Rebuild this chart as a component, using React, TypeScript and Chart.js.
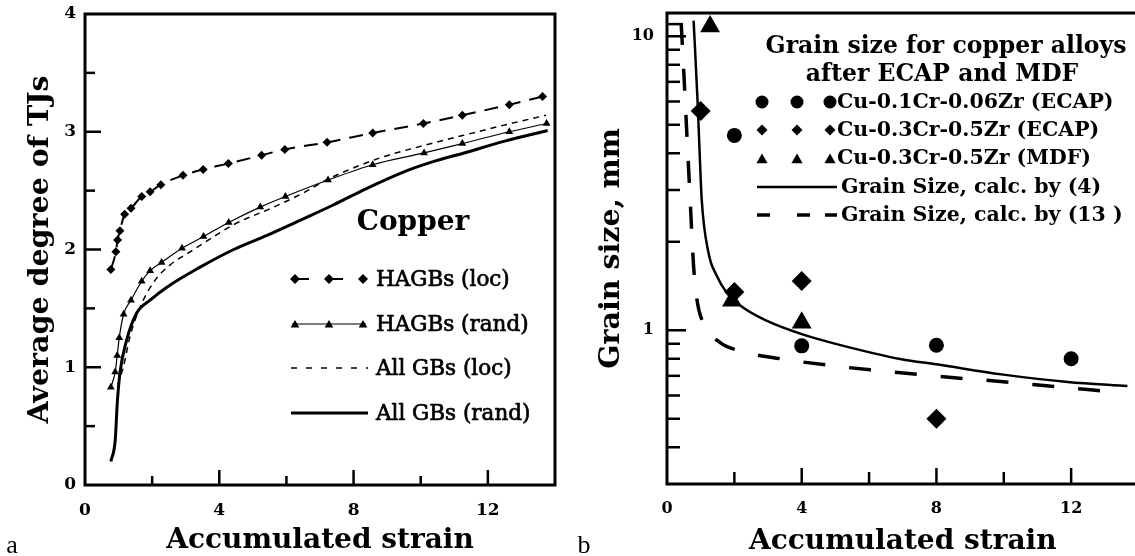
import React, { useEffect, useRef } from 'react';
import { Chart, registerables } from 'chart.js';

Chart.register(...registerables);

// ---------- Panel a data (Copper) ----------
const aStrainHagbsLoc = [0.77, 0.92, 0.97, 1.04, 1.18, 1.37, 1.69, 1.94, 2.26, 2.92, 3.52, 4.27, 5.26, 5.95, 7.21, 8.57, 10.08, 11.24, 12.64, 13.63];
const aHagbsLoc = [1.83, 1.98, 2.08, 2.16, 2.30, 2.35, 2.45, 2.49, 2.55, 2.63, 2.68, 2.73, 2.80, 2.85, 2.91, 2.99, 3.07, 3.14, 3.23, 3.30];

const aStrainHagbsRand = [0.77, 0.90, 0.96, 1.02, 1.15, 1.37, 1.69, 1.94, 2.28, 2.89, 3.53, 4.28, 5.22, 5.97, 7.24, 8.57, 10.1, 11.24, 12.64, 13.75];
const aHagbsRand = [0.83, 0.96, 1.10, 1.25, 1.45, 1.57, 1.73, 1.82, 1.89, 2.01, 2.11, 2.23, 2.36, 2.45, 2.59, 2.72, 2.82, 2.90, 3.00, 3.07];

const aStrainAllLoc = [0.98, 1.14, 1.34, 1.64, 2.09, 2.54, 3.13, 3.73, 4.42, 5.62, 6.5, 7.26, 8.81, 10.05, 11.28, 12.54, 13.73];
const aAllLoc = [0.85, 1.00, 1.26, 1.51, 1.74, 1.87, 1.98, 2.09, 2.21, 2.36, 2.48, 2.60, 2.78, 2.88, 2.97, 3.06, 3.14];

const aStrainAllRand = [0.77, 0.90, 0.96, 1.04, 1.24, 1.54, 1.94, 2.44, 3.43, 4.43, 5.42, 6.42, 7.41, 8.4, 9.5, 10.3, 11.29, 12.5, 13.78];
const aAllRand = [0.20, 0.38, 0.69, 0.95, 1.23, 1.46, 1.57, 1.68, 1.85, 2.00, 2.12, 2.25, 2.38, 2.52, 2.66, 2.74, 2.82, 2.92, 3.01];

const aLegendLabels = ['HAGBs (loc)', 'HAGBs (rand)', 'All GBs (loc)', 'All GBs (rand)'];
const aLegendTitle = 'Copper';
const aXTitle = 'Accumulated strain';
const aYTitle = 'Average degree of TJs';

// ---------- Panel b data (Grain size) ----------
const bStrainCrZr01 = [2, 4, 8, 12];
const bSizeCrZr01 = [4.6, 0.885, 0.889, 0.80];
const bStrainEcap03 = [1, 2, 4, 8];
const bSizeEcap03 = [5.57, 1.35, 1.47, 0.50];
const bStrainMdf03 = [1.28, 1.93, 4.0];
const bSizeMdf03 = [10.8, 1.26, 1.06];

const bStrainCalc4 = [0.79, 0.905, 0.965, 1.03, 1.23, 1.48, 1.78, 2.28, 2.97, 4.0, 4.98, 6.96, 8.0, 9.93, 11.9, 13.67];
const bCalc4 = [11.3, 6.1, 4.13, 2.79, 1.84, 1.53, 1.34, 1.19, 1.076, 0.97, 0.901, 0.797, 0.766, 0.708, 0.667, 0.646];
const bStrainCalc13 = [0.42, 0.5, 0.58, 0.68, 0.79, 0.89, 1.09, 1.58, 2.18, 3.37, 4.98, 6.07, 7.45, 8.84, 10.27, 11.66, 13.03, 13.4];
const bCalc13 = [11.1, 7.5, 4.9, 2.9, 1.65, 1.27, 1.05, 0.908, 0.85, 0.80, 0.756, 0.733, 0.708, 0.685, 0.664, 0.641, 0.621, 0.618];

const bYTickValues = [0.3, 0.4, 0.5, 0.6, 0.7, 0.8, 0.9, 1, 2, 3, 4, 5, 6, 7, 8, 9, 10, 11];
const bYLabelled = [1, 10];
const bLegendTitle = ['Grain size for copper alloys', 'after ECAP and MDF'];
const bLegendLabels = ['Cu-0.1Cr-0.06Zr (ECAP)', 'Cu-0.3Cr-0.5Zr (ECAP)', 'Cu-0.3Cr-0.5Zr (MDF)', 'Grain Size, calc. by (4)', 'Grain Size, calc. by (13 )'];
const bXTitle = 'Accumulated strain';
const bYTitle = 'Grain size, mm';

const SERIF = '"DejaVu Serif", "Liberation Serif", serif';

const zip = (xs: number[], ys: number[]) => xs.map((x, i) => ({ x, y: ys[i] }));

function drawMarker(ctx: CanvasRenderingContext2D, style: string, x: number, y: number, r: number) {
  ctx.beginPath();
  if (style === 'circle') {
    ctx.arc(x, y, r, 0, Math.PI * 2);
  } else if (style === 'rectRot') {
    ctx.moveTo(x, y - r);
    ctx.lineTo(x + r, y);
    ctx.lineTo(x, y + r);
    ctx.lineTo(x - r, y);
    ctx.closePath();
  } else {
    ctx.moveTo(x, y - r);
    ctx.lineTo(x + r * 0.866, y + r / 2);
    ctx.lineTo(x - r * 0.866, y + r / 2);
    ctx.closePath();
  }
  ctx.fillStyle = '#000';
  ctx.fill();
}

function seg(ctx: CanvasRenderingContext2D, x1: number, y1: number, x2: number, y2: number) {
  ctx.beginPath();
  ctx.moveTo(x1, y1);
  ctx.lineTo(x2, y2);
  ctx.stroke();
}

const fixX = (h: number) => (s: any) => {
  s.height = h;
  s.paddingLeft = 0;
  s.paddingRight = 0;
  s.paddingTop = 0;
  s.paddingBottom = 0;
};
const fixY = (w: number) => (s: any) => {
  s.width = w;
  s.paddingLeft = 0;
  s.paddingRight = 0;
  s.paddingTop = 0;
  s.paddingBottom = 0;
};

function frameTicksPlugin(cfg: {
  xMajor: (v: number) => boolean;
  yMajor: (v: number) => boolean;
  xLen: [number, number];
  yLen: [number, number];
  panelLetter: string;
  letterX: number;
  letterY: number;
}) {
  return {
    id: 'frameTicks',
    afterDatasetsDraw(chart: any) {
      const { ctx, chartArea: ca, scales } = chart;
      ctx.save();
      ctx.strokeStyle = '#000';
      ctx.lineWidth = 2.5;
      ctx.setLineDash([]);
      const xs = scales.x;
      xs.ticks.forEach((t: any) => {
        const px = xs.getPixelForValue(t.value);
        if (px <= ca.left + 2 || px >= ca.right - 2) return;
        const len = cfg.xMajor(t.value) ? cfg.xLen[0] : cfg.xLen[1];
        seg(ctx, px, ca.bottom, px, ca.bottom - len);
      });
      const ys = scales.y;
      ys.ticks.forEach((t: any) => {
        const py = ys.getPixelForValue(t.value);
        if (py <= ca.top + 2 || py >= ca.bottom - 2) return;
        const len = cfg.yMajor(t.value) ? cfg.yLen[0] : cfg.yLen[1];
        seg(ctx, ca.left, py, ca.left + len, py);
      });
      ctx.lineWidth = 3;
      ctx.strokeRect(ca.left, ca.top, ca.right - ca.left, ca.bottom - ca.top);
      ctx.fillStyle = '#000';
      ctx.font = '26px "Liberation Serif", serif';
      ctx.textAlign = 'center';
      ctx.textBaseline = 'middle';
      ctx.fillText(cfg.panelLetter, cfg.letterX, cfg.letterY);
      ctx.restore();
    },
  };
}

const legendAPlugin = {
  id: 'legendA',
  afterDraw(chart: any) {
    const ctx: CanvasRenderingContext2D = chart.ctx;
    ctx.save();
    ctx.fillStyle = '#000';
    ctx.strokeStyle = '#000';
    ctx.textBaseline = 'middle';
    ctx.textAlign = 'center';
    ctx.font = `bold 28px ${SERIF}`;
    ctx.fillText(aLegendTitle, 413, 223);
    const rows = [279, 324, 368, 413];
    const mx = [295, 329, 363];
    ctx.lineWidth = 2;
    seg(ctx, 295, rows[0], 309, rows[0]);
    seg(ctx, 329, rows[0], 343, rows[0]);
    mx.forEach((x) => drawMarker(ctx, 'rectRot', x, rows[0], 5));
    ctx.lineWidth = 1.2;
    seg(ctx, 292, rows[1], 366, rows[1]);
    mx.forEach((x) => drawMarker(ctx, 'triangle', x, rows[1] + 1, 5));
    ctx.lineWidth = 1.5;
    ctx.setLineDash([6, 9]);
    seg(ctx, 291, rows[2], 368, rows[2]);
    ctx.setLineDash([]);
    ctx.lineWidth = 3;
    seg(ctx, 291, rows[3], 368, rows[3]);
    ctx.textAlign = 'left';
    ctx.font = `21.5px ${SERIF}`;
    ctx.lineWidth = 0.7;
    aLegendLabels.forEach((t, i) => {
      ctx.fillText(t, 376, rows[i] + 1);
      ctx.strokeText(t, 376, rows[i] + 1);
    });
    ctx.restore();
  },
};

const legendBPlugin = {
  id: 'legendB',
  afterDraw(chart: any) {
    const ctx: CanvasRenderingContext2D = chart.ctx;
    const ox = -560;
    ctx.save();
    ctx.fillStyle = '#000';
    ctx.strokeStyle = '#000';
    ctx.textBaseline = 'middle';
    ctx.textAlign = 'center';
    ctx.font = `bold 23.5px ${SERIF}`;
    ctx.fillText(bLegendTitle[0], 946 + ox, 47);
    ctx.fillText(bLegendTitle[1], 942 + ox, 75);
    const rows = [102, 130, 158, 187, 215];
    const mx = [762, 797, 830];
    mx.forEach((x) => drawMarker(ctx, 'circle', x + ox, rows[0], 6.5));
    mx.forEach((x) => drawMarker(ctx, 'rectRot', x + ox, rows[1], 5.5));
    mx.forEach((x) => drawMarker(ctx, 'triangle', x + ox, rows[2] + 2, 6.5));
    ctx.lineWidth = 2.5;
    seg(ctx, 757 + ox, rows[3], 837 + ox, rows[3]);
    ctx.lineWidth = 3.5;
    seg(ctx, 757 + ox, rows[4], 770 + ox, rows[4]);
    seg(ctx, 797 + ox, rows[4], 810 + ox, rows[4]);
    seg(ctx, 825 + ox, rows[4], 837 + ox, rows[4]);
    ctx.textAlign = 'left';
    ctx.font = `bold 20.5px ${SERIF}`;
    bLegendLabels.forEach((t, i) => {
      ctx.fillText(t, (i < 3 ? 837 : 841) + ox, rows[i] + 1);
    });
    ctx.restore();
  },
};

function makeA(): any {
  const tickFont = { family: SERIF, size: 17, weight: 'bold' as const };
  return {
    type: 'scatter',
    data: {
      datasets: [
        {
          label: aLegendLabels[0],
          data: zip(aStrainHagbsLoc, aHagbsLoc),
          showLine: true,
          borderColor: '#000',
          borderWidth: 2,
          borderDash: [14, 9],
          pointStyle: 'rectRot',
          pointRadius: 4.5,
          pointBackgroundColor: '#000',
          pointBorderColor: '#000',
          pointBorderWidth: 0,
          cubicInterpolationMode: 'monotone',
        },
        {
          label: aLegendLabels[1],
          data: zip(aStrainHagbsRand, aHagbsRand),
          showLine: true,
          borderColor: '#000',
          borderWidth: 1.2,
          pointStyle: 'triangle',
          pointRadius: 4.5,
          pointBackgroundColor: '#000',
          pointBorderColor: '#000',
          pointBorderWidth: 0,
          cubicInterpolationMode: 'monotone',
        },
        {
          label: aLegendLabels[2],
          data: zip(aStrainAllLoc, aAllLoc),
          showLine: true,
          borderColor: '#000',
          borderWidth: 1.5,
          borderDash: [6, 5],
          pointRadius: 0,
          cubicInterpolationMode: 'monotone',
        },
        {
          label: aLegendLabels[3],
          data: zip(aStrainAllRand, aAllRand),
          showLine: true,
          borderColor: '#000',
          borderWidth: 3,
          pointRadius: 0,
          cubicInterpolationMode: 'monotone',
        },
      ],
    },
    options: {
      animation: false,
      responsive: false,
      devicePixelRatio: 1,
      layout: { padding: { top: 14, right: 5, left: 0, bottom: 0 } },
      plugins: { legend: { display: false }, tooltip: { enabled: false } },
      scales: {
        x: {
          type: 'linear',
          min: 0,
          max: 14,
          afterFit: fixX(71),
          grid: { display: false, drawTicks: false },
          border: { display: false },
          ticks: {
            stepSize: 2,
            autoSkip: false,
            maxRotation: 0,
            padding: 15,
            color: '#000',
            font: tickFont,
            callback: (v: number) => (v % 4 === 0 ? String(v) : ''),
          },
          title: {
            display: true,
            text: aXTitle,
            color: '#000',
            font: { family: SERIF, size: 28, weight: 'bold', lineHeight: 1 },
            padding: { top: 0, bottom: 1 },
          },
        },
        y: {
          type: 'linear',
          min: 0,
          max: 4,
          afterFit: fixY(85),
          grid: { display: false, drawTicks: false },
          border: { display: false },
          ticks: {
            stepSize: 0.5,
            autoSkip: false,
            padding: 9,
            color: '#000',
            font: tickFont,
            callback: (v: number) => (Number.isInteger(v) ? String(v) : ''),
          },
          title: {
            display: true,
            text: aYTitle,
            color: '#000',
            font: { family: SERIF, size: 28.5, weight: 'bold', lineHeight: 1 },
            padding: { top: 26, bottom: 0 },
          },
        },
      },
    },
    plugins: [
      frameTicksPlugin({
        xMajor: (v) => v % 4 === 0,
        yMajor: (v) => Number.isInteger(v),
        xLen: [15, 9],
        yLen: [16, 10],
        panelLetter: 'a',
        letterX: 12,
        letterY: 546,
      }),
      legendAPlugin,
    ],
  };
}

function makeB(): any {
  const tickFont = { family: SERIF, size: 16, weight: 'bold' as const };
  const common = { pointBackgroundColor: '#000', pointBorderColor: '#000', pointBorderWidth: 0, showLine: false };
  return {
    type: 'scatter',
    data: {
      datasets: [
        {
          label: bLegendLabels[3],
          data: zip(bStrainCalc4, bCalc4),
          showLine: true,
          borderColor: '#000',
          borderWidth: 2.5,
          pointRadius: 0,
          cubicInterpolationMode: 'monotone',
        },
        {
          label: bLegendLabels[4],
          data: zip(bStrainCalc13, bCalc13),
          showLine: true,
          borderColor: '#000',
          borderWidth: 3.5,
          borderDash: [22, 24],
          pointRadius: 0,
          cubicInterpolationMode: 'monotone',
        },
        { label: bLegendLabels[0], data: zip(bStrainCrZr01, bSizeCrZr01), pointStyle: 'circle', pointRadius: 7.5, ...common },
        { label: bLegendLabels[1], data: zip(bStrainEcap03, bSizeEcap03), pointStyle: 'rectRot', pointRadius: 10, ...common },
        { label: bLegendLabels[2], data: zip(bStrainMdf03, bSizeMdf03), pointStyle: 'triangle', pointRadius: 11.5, ...common },
      ],
    },
    options: {
      animation: false,
      responsive: false,
      devicePixelRatio: 1,
      layout: { padding: { top: 13, right: 11, left: 0, bottom: 0 } },
      plugins: { legend: { display: false }, tooltip: { enabled: false } },
      scales: {
        x: {
          type: 'linear',
          min: 0,
          max: 14,
          afterFit: fixX(72),
          grid: { display: false, drawTicks: false },
          border: { display: false },
          ticks: {
            stepSize: 2,
            autoSkip: false,
            maxRotation: 0,
            padding: 15,
            color: '#000',
            font: tickFont,
            callback: (v: number) => (v % 4 === 0 ? String(v) : ''),
          },
          title: {
            display: true,
            text: bXTitle,
            color: '#000',
            font: { family: SERIF, size: 28, weight: 'bold', lineHeight: 1 },
            padding: { top: 0, bottom: 0 },
          },
        },
        y: {
          type: 'logarithmic',
          min: 0.3,
          max: 12,
          afterFit: fixY(107),
          afterBuildTicks: (s: any) => {
            s.ticks = bYTickValues.map((v) => ({ value: v, major: bYLabelled.includes(v) }));
          },
          grid: { display: false, drawTicks: false },
          border: { display: false },
          ticks: {
            autoSkip: false,
            padding: 13,
            color: '#000',
            font: tickFont,
            callback: (v: number) => (bYLabelled.includes(v) ? String(v) : ''),
          },
          title: {
            display: true,
            text: bYTitle,
            color: '#000',
            font: { family: SERIF, size: 28.5, weight: 'bold', lineHeight: 1 },
            padding: { top: 37, bottom: 0 },
          },
        },
      },
    },
    plugins: [
      frameTicksPlugin({
        xMajor: (v) => v % 4 === 0,
        yMajor: (v) => bYLabelled.includes(v),
        xLen: [16, 12],
        yLen: [19, 13],
        panelLetter: 'b',
        letterX: 24,
        letterY: 546,
      }),
      legendBPlugin,
    ],
  };
}

function Panel({ left, width, height, make }: { left: number; width: number; height: number; make: () => any }) {
  const ref = useRef<HTMLCanvasElement>(null);
  useEffect(() => {
    if (!ref.current) return;
    const chart = new Chart(ref.current, make());
    return () => chart.destroy();
  }, [make]);
  return (
    <div style={{ position: 'absolute', left, top: 0, width, height }}>
      <canvas ref={ref} width={width} height={height} style={{ width, height, display: 'block' }} />
    </div>
  );
}

export default function App() {
  return (
    <div
      style={{
        position: 'fixed',
        left: 0,
        top: 0,
        width: 1135,
        height: 556,
        overflow: 'hidden',
        background: '#fff',
      }}
    >
      <Panel left={0} width={560} height={556} make={makeA} />
      <Panel left={560} width={590} height={556} make={makeB} />
    </div>
  );
}
